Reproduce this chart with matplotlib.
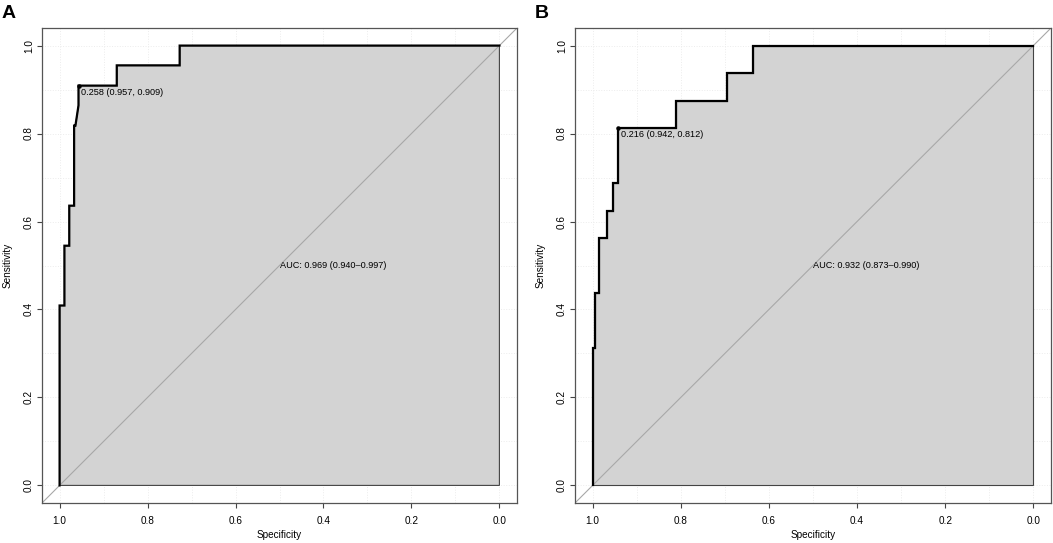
import matplotlib.pyplot as plt
import numpy as np

plt.rcParams['font.family'] = ['Liberation Sans', 'DejaVu Sans']

# ROC vertices (specificity, sensitivity)
spec_a = [1.0, 1.0, 0.989, 0.989, 0.978, 0.978, 0.967, 0.967, 0.964, 0.957, 0.957,
          0.870, 0.870, 0.727, 0.727, 0.0]
sens_a = [0.0, 0.409, 0.409, 0.545, 0.545, 0.636, 0.636, 0.818, 0.818, 0.864, 0.909,
          0.909, 0.955, 0.955, 1.0, 1.0]
thres_a = (0.258, 0.957, 0.909)
auc_a = (0.969, 0.940, 0.997)

spec_b = [1.0, 1.0, 0.995, 0.995, 0.985, 0.985, 0.968, 0.968, 0.954, 0.954, 0.942,
          0.942, 0.811, 0.811, 0.695, 0.695, 0.637, 0.637, 0.0]
sens_b = [0.0, 0.312, 0.312, 0.438, 0.438, 0.562, 0.562, 0.625, 0.625, 0.688, 0.688,
          0.812, 0.812, 0.875, 0.875, 0.938, 0.938, 1.0, 1.0]
thres_b = (0.216, 0.942, 0.812)
auc_b = (0.932, 0.873, 0.990)

W, H = 1053, 543
fig = plt.figure(figsize=(W / 100, H / 100), dpi=100)


def roc_panel(rect, spec, sens, thres, auc, letter):
    ax = fig.add_axes(rect)
    ax.set_xlim(1.04, -0.04)
    ax.set_ylim(-0.04, 1.04)

    # faint grid every 0.1
    for g in np.arange(0, 1.01, 0.1):
        ax.axvline(g, color='#ececec', lw=0.7, ls=':', zorder=0)
        ax.axhline(g, color='#ececec', lw=0.7, ls=':', zorder=0)

    # AUC polygon
    px = list(spec) + [0.0, 1.0]
    py = list(sens) + [0.0, 0.0]
    ax.fill(px, py, facecolor='#d3d3d3', edgecolor='#444444', lw=0.8, zorder=1)

    # diagonal reference
    ax.axline((1, 0), (0, 1), color='#a8a8a8', lw=0.8, zorder=2)

    # ROC curve
    ax.plot(spec, sens, color='black', lw=1.6, zorder=3, solid_joinstyle='miter')

    # best threshold
    t, sp, se = thres
    ax.plot(sp, se, 'o', color='black', ms=2.2, zorder=4)
    ax.annotate(f"{t:.3f} ({sp:.3f}, {se:.3f})", (sp, se), xytext=(2, -1.5),
                textcoords='offset points', ha='left', va='top', fontsize=6.6, zorder=5)

    ax.text(0.5, 0.5, f"AUC: {auc[0]:.3f} ({auc[1]:.3f}\u2013{auc[2]:.3f})",
            ha='left', va='center', fontsize=6.6, zorder=5)

    ticks = [1.0, 0.8, 0.6, 0.4, 0.2, 0.0]
    ax.set_xticks(ticks)
    ax.set_xticklabels([f"{v:.1f}" for v in ticks])
    ax.set_yticks(ticks)
    ax.set_yticklabels([f"{v:.1f}" for v in ticks], rotation=90, va='center')
    ax.tick_params(axis='both', length=3.6, width=0.8, color='#444444', labelsize=7.2)
    ax.tick_params(axis='x', pad=6)
    ax.tick_params(axis='y', pad=2.2)
    for s in ax.spines.values():
        s.set_color('#555555')
        s.set_linewidth(0.9)

    ax.set_xlabel("Specificity", fontsize=7.2, labelpad=3)
    ax.set_ylabel("Sensitivity", fontsize=7.2, labelpad=8)

    fig.text(rect[0] - 40 / W, 1 - 5 / H, letter, fontsize=14, fontweight='bold',
             ha='left', va='top')
    return ax


roc_panel([42 / W, 40 / H, 475 / W, 475 / H], spec_a, sens_a, thres_a, auc_a, "A")
roc_panel([575 / W, 40 / H, 476 / W, 475 / H], spec_b, sens_b, thres_b, auc_b, "B")

fig.savefig("out.png", dpi=100)
